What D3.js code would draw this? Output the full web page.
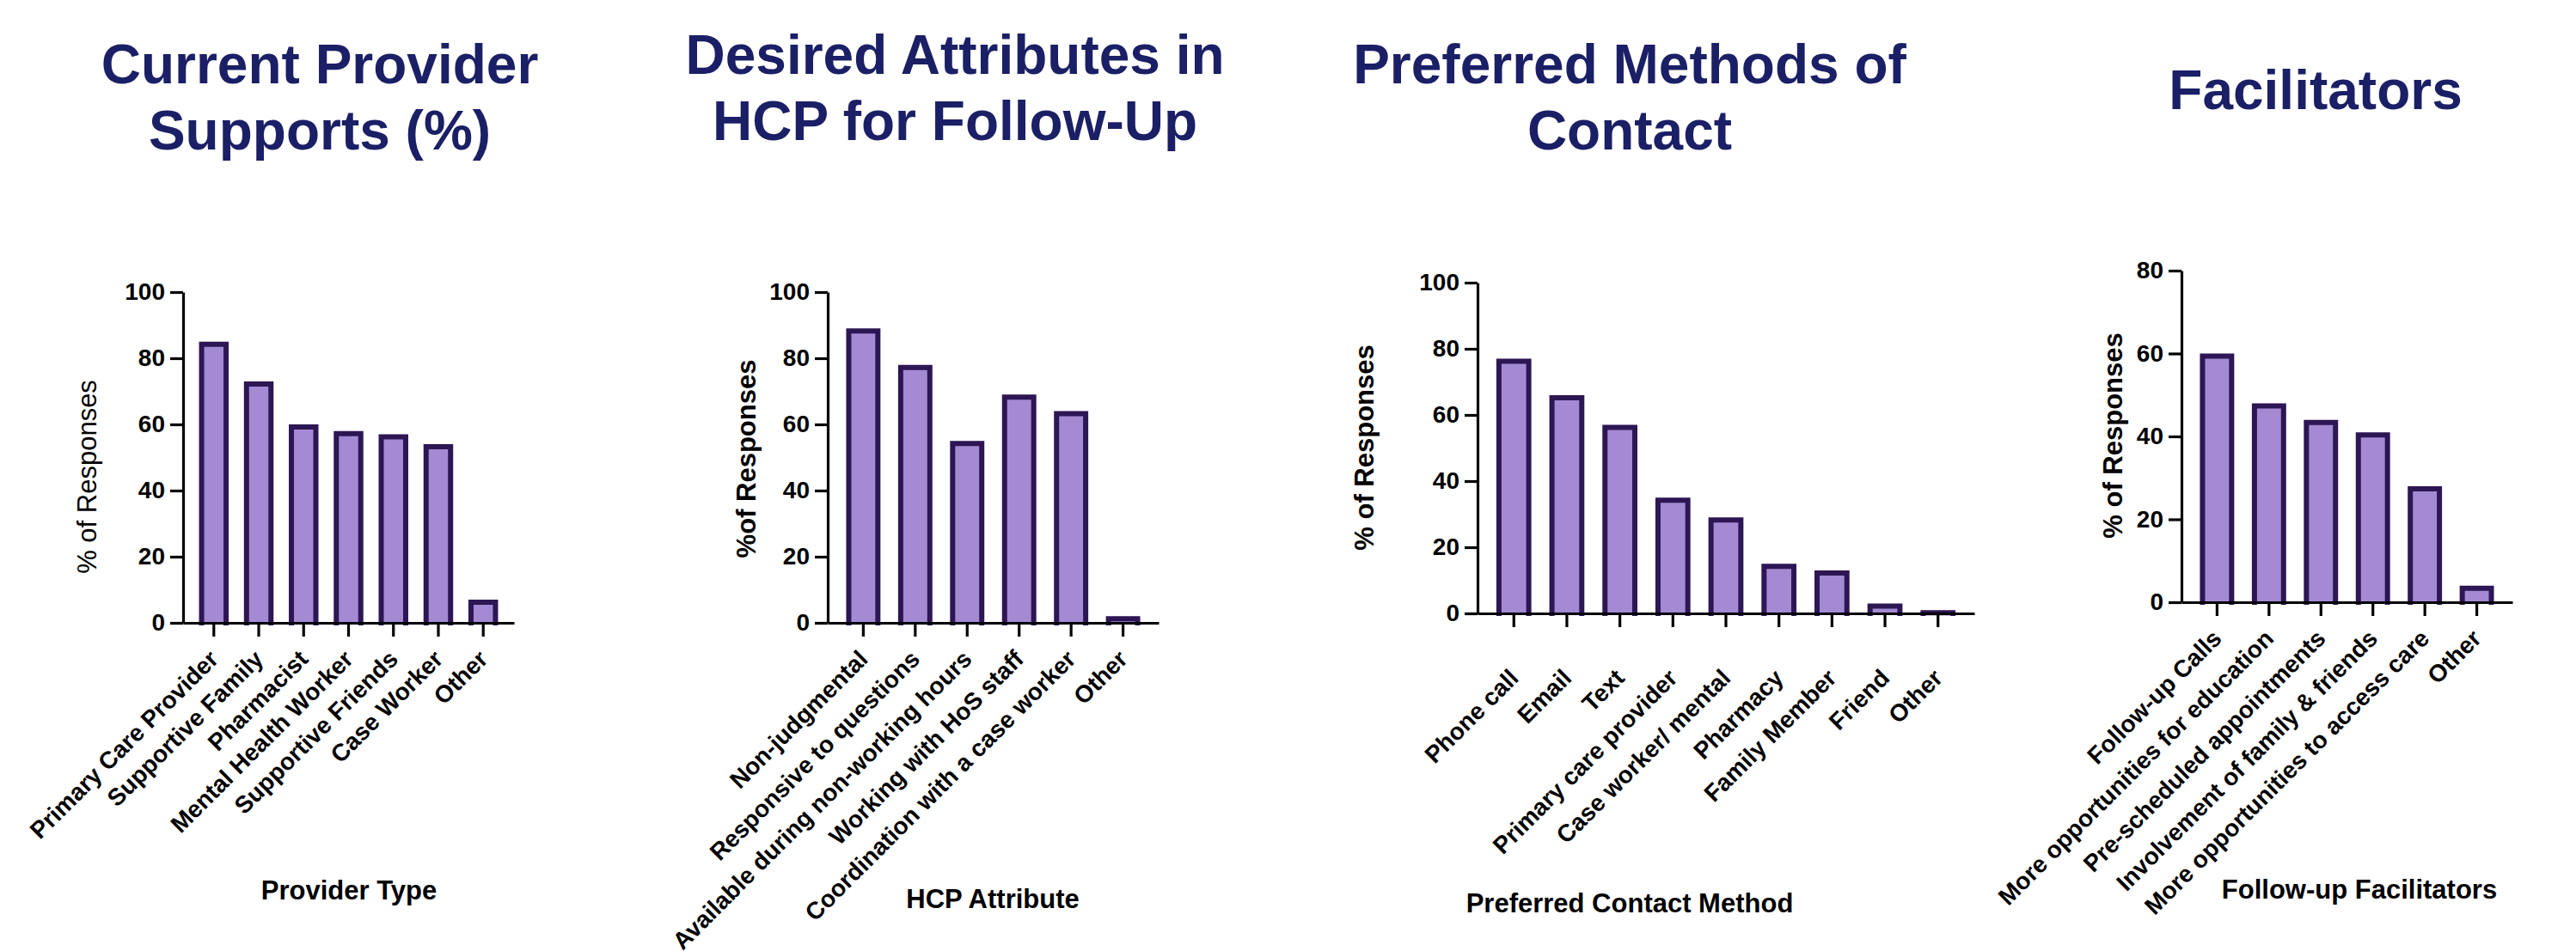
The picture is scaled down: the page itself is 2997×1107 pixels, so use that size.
<!DOCTYPE html>
<html>
<head>
<meta charset="utf-8">
<script src="https://cdn.jsdelivr.net/npm/d3@7"></script>
<style>
  html, body { margin: 0; padding: 0; background: #ffffff; }
  svg { display: block; }
  text { font-family: "Liberation Sans", Arial, Helvetica, sans-serif; }
</style>
</head>
<body>
<svg id="chart" width="2997" height="1107"></svg>
<script>
// ---- Survey data (percent of responses) ----
const providerTypes = ["Primary Care Provider", "Supportive Family", "Pharmacist", "Mental Health Worker", "Supportive Friends", "Case Worker", "Other"];
const providerPct = [85, 73, 60, 58, 57, 54, 7];

const hcpAttributes = ["Non-judgmental", "Responsive to questions", "Available during non-working hours", "Working with HoS staff", "Coordination with a case worker", "Other"];
const hcpPct = [89, 78, 55, 69, 64, 2];

const contactMethods = ["Phone call", "Email", "Text", "Primary care provider", "Case worker/ mental", "Pharmacy", "Family Member", "Friend", "Other"];
const contactPct = [77, 66, 57, 35, 29, 15, 13, 3, 1];

const facilitators = ["Follow-up Calls", "More opportunities for education", "Pre-scheduled appointments", "Involvement of family & friends", "More opportunities to access care", "Other"];
const facilitatorPct = [60, 48, 44, 41, 28, 4];

const yTicks100 = [0, 20, 40, 60, 80, 100];
const yTicks80 = [0, 20, 40, 60, 80];

// ---- Panel definitions: data plus layout ----
const panels = [
  {
    title: ["Current Provider", "Supports (%)"], titleX: 372, titleY: 97,
    cats: providerTypes, vals: providerPct, ticks: yTicks100, yMax: 100,
    x0: 213, x1: 598, yTop: 340, yBot: 725, labelGap: 37,
    yLabel: "% of Responses", yLabelWeight: "normal", yLabelX: 112, yLabelY: 555,
    xTitle: "Provider Type", xTitleX: 406, xTitleY: 1047
  },
  {
    title: ["Desired Attributes in", "HCP for Follow-Up"], titleX: 1111, titleY: 86,
    cats: hcpAttributes, vals: hcpPct, ticks: yTicks100, yMax: 100,
    x0: 963, x1: 1348, yTop: 340, yBot: 725, labelGap: 37,
    yLabel: "%of Responses", yLabelWeight: "bold", yLabelX: 879, yLabelY: 534,
    xTitle: "HCP Attribute", xTitleX: 1155, xTitleY: 1057
  },
  {
    title: ["Preferred Methods of", "Contact"], titleX: 1896, titleY: 97,
    cats: contactMethods, vals: contactPct, ticks: yTicks100, yMax: 100,
    x0: 1719, x1: 2297, yTop: 329, yBot: 714, labelGap: 70,
    yLabel: "% of Responses", yLabelWeight: "bold", yLabelX: 1598, yLabelY: 521,
    xTitle: "Preferred Contact Method", xTitleX: 1896, xTitleY: 1062
  },
  {
    title: ["Facilitators"], titleX: 2694, titleY: 127,
    cats: facilitators, vals: facilitatorPct, ticks: yTicks80, yMax: 80,
    x0: 2538, x1: 2923, yTop: 315, yBot: 701, labelGap: 37,
    yLabel: "% of Responses", yLabelWeight: "bold", yLabelX: 2469, yLabelY: 507,
    xTitle: "Follow-up Facilitators", xTitleX: 2745, xTitleY: 1046
  }
];

const svg = d3.select("#chart");
const TITLE_COLOR = "#1b1f66";
const BAR_FILL = "#a48ad3";
const BAR_STROKE = "#2d1654";
const BAR_SW = 6;

panels.forEach(p => {
  const g = svg.append("g");

  // Title
  const t = g.append("text")
    .attr("x", p.titleX).attr("y", p.titleY)
    .attr("text-anchor", "middle")
    .attr("fill", TITLE_COLOR)
    .attr("font-weight", "bold")
    .attr("font-size", 64);
  p.title.forEach((line, i) => {
    t.append("tspan").attr("x", p.titleX).attr("dy", i === 0 ? 0 : 77).text(line);
  });

  // Scales
  const x = d3.scaleBand().domain(p.cats).range([p.x0, p.x1])
    .paddingInner(0.34).paddingOuter(0.355);
  const y = d3.scaleLinear().domain([0, p.yMax]).range([p.yBot, p.yTop]);

  // Bars: filled body with an outline on the left, top and right sides
  const rows = p.cats.map((c, i) => ({ c, v: p.vals[i] }));
  const bars = g.append("g");
  bars.selectAll("rect").data(rows).join("rect")
    .attr("x", d => x(d.c) + BAR_SW / 2)
    .attr("y", d => y(d.v) + BAR_SW / 2)
    .attr("width", x.bandwidth() - BAR_SW)
    .attr("height", d => Math.max(0, p.yBot - y(d.v) - BAR_SW / 2))
    .attr("fill", BAR_FILL);
  bars.selectAll("path").data(rows).join("path")
    .attr("d", d => {
      const l = x(d.c) + BAR_SW / 2, r = x(d.c) + x.bandwidth() - BAR_SW / 2;
      const top = y(d.v) + BAR_SW / 2;
      const path = d3.path();
      path.moveTo(l, p.yBot);
      path.lineTo(l, top);
      path.lineTo(r, top);
      path.lineTo(r, p.yBot);
      return path.toString();
    })
    .attr("fill", "none")
    .attr("stroke", BAR_STROKE)
    .attr("stroke-width", BAR_SW)
    .attr("stroke-linejoin", "miter")
    .attr("stroke-linecap", "square");

  // Y axis
  const yAxis = g.append("g")
    .attr("transform", `translate(${p.x0},0)`)
    .call(d3.axisLeft(y).tickValues(p.ticks).tickSize(15).tickSizeOuter(0).tickPadding(6));
  yAxis.select(".domain").attr("stroke", "#000").attr("stroke-width", 3.2);
  yAxis.selectAll(".tick line").attr("stroke", "#000").attr("stroke-width", 3.2);
  yAxis.selectAll(".tick text")
    .attr("fill", "#000")
    .attr("font-size", 28)
    .attr("font-weight", "bold")
    .attr("font-family", "'Liberation Sans', Arial, sans-serif");

  // X axis
  const xAxis = g.append("g")
    .attr("transform", `translate(0,${p.yBot})`)
    .call(d3.axisBottom(x).tickSize(16).tickSizeOuter(0));
  xAxis.select(".domain").attr("stroke", "#000").attr("stroke-width", 3.2);
  xAxis.selectAll(".tick line").attr("stroke", "#000").attr("stroke-width", 3.2);
  xAxis.selectAll(".tick text")
    .attr("fill", "#000")
    .attr("font-size", 28)
    .attr("font-weight", "bold")
    .attr("font-family", "'Liberation Sans', Arial, sans-serif")
    .attr("text-anchor", "end")
    .attr("y", 0)
    .attr("dy", "0.35em")
    .attr("transform", `translate(0,${p.labelGap}) rotate(-45)`);

  // Y axis title
  g.append("text")
    .attr("transform", `translate(${p.yLabelX},${p.yLabelY}) rotate(-90)`)
    .attr("text-anchor", "middle")
    .attr("font-size", 31)
    .attr("font-weight", p.yLabelWeight)
    .attr("fill", "#000")
    .text(p.yLabel);

  // X axis title
  g.append("text")
    .attr("x", p.xTitleX).attr("y", p.xTitleY)
    .attr("text-anchor", "middle")
    .attr("font-size", 31)
    .attr("font-weight", "bold")
    .attr("fill", "#000")
    .text(p.xTitle);
});
</script>
</body>
</html>
